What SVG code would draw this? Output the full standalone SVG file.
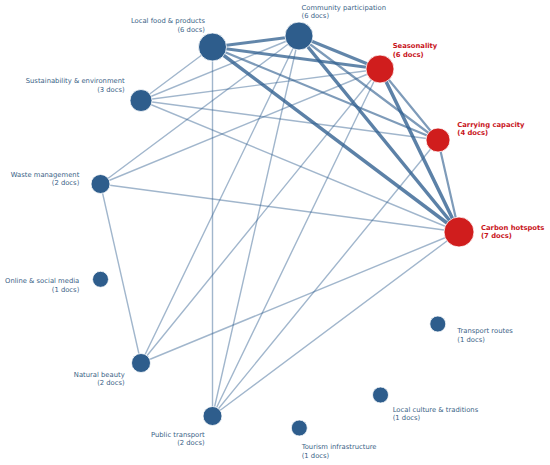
<svg xmlns="http://www.w3.org/2000/svg" width="550" height="465" viewBox="0 0 550 465">
<style>
.e{stroke:#2e5e8e;fill:none;stroke-linecap:round}
.t1{stroke-width:1.4;stroke-opacity:0.45}
.t2{stroke-width:2.2;stroke-opacity:0.62}
.t3{stroke-width:3;stroke-opacity:0.75}
.t4{stroke-width:3.5;stroke-opacity:0.78}
.nb{fill:#2e5d8c;stroke:#ffffff;stroke-width:0.8}
.nr{fill:#d01d1d;stroke:#ffffff;stroke-width:0.8}
.lb{font-family:"DejaVu Sans",sans-serif;font-size:6.8px;fill:#3a5f86}
.lr{font-family:"DejaVu Sans",sans-serif;font-size:6.8px;fill:#c8141b;font-weight:bold}
.r{text-anchor:end}
</style>
<rect width="550" height="465" fill="#ffffff"/>
<g id="edges">
<line class="e t3" x1="212.5" y1="47" x2="299" y2="36"/>
<line class="e t3" x1="212.5" y1="47" x2="380" y2="69"/>
<line class="e t4" x1="212.5" y1="47" x2="459" y2="232"/>
<line class="e t2" x1="212.5" y1="47" x2="438" y2="140"/>
<line class="e t3" x1="299" y1="36" x2="380" y2="69"/>
<line class="e t4" x1="299" y1="36" x2="459" y2="232"/>
<line class="e t2" x1="299" y1="36" x2="438" y2="140"/>
<line class="e t4" x1="380" y1="69" x2="459" y2="232"/>
<line class="e t2" x1="380" y1="69" x2="438" y2="140"/>
<line class="e t2" x1="438" y1="140" x2="459" y2="232"/>
<line class="e t1" x1="212.5" y1="47" x2="141" y2="100.5"/>
<line class="e t1" x1="212.5" y1="47" x2="212.5" y2="416"/>
<line class="e t1" x1="299" y1="36" x2="141" y2="100.5"/>
<line class="e t1" x1="299" y1="36" x2="100.5" y2="184"/>
<line class="e t1" x1="299" y1="36" x2="141" y2="363"/>
<line class="e t1" x1="299" y1="36" x2="212.5" y2="416"/>
<line class="e t1" x1="380" y1="69" x2="141" y2="100.5"/>
<line class="e t1" x1="380" y1="69" x2="100.5" y2="184"/>
<line class="e t1" x1="380" y1="69" x2="141" y2="363"/>
<line class="e t1" x1="380" y1="69" x2="212.5" y2="416"/>
<line class="e t1" x1="438" y1="140" x2="141" y2="100.5"/>
<line class="e t1" x1="438" y1="140" x2="212.5" y2="416"/>
<line class="e t1" x1="459" y1="232" x2="141" y2="100.5"/>
<line class="e t1" x1="459" y1="232" x2="100.5" y2="184"/>
<line class="e t1" x1="459" y1="232" x2="141" y2="363"/>
<line class="e t1" x1="459" y1="232" x2="212.5" y2="416"/>
<line class="e t1" x1="100.5" y1="184" x2="141" y2="363"/>
</g>
<g id="n-local-food"><circle class="nb" cx="212.5" cy="47" r="14"/><text class="lb r" x="205" y="23.2">Local food &amp; products</text><text class="lb r" x="205" y="31.5">(6 docs)</text></g>
<g id="n-community"><circle class="nb" cx="299" cy="36" r="14"/><text class="lb" x="301.5" y="10">Community participation</text><text class="lb" x="301.5" y="18.3">(6 docs)</text></g>
<g id="n-seasonality"><circle class="nr" cx="380" cy="69" r="14"/><text class="lr" x="392.7" y="48.3">Seasonality</text><text class="lr" x="392.7" y="56.5">(6 docs)</text></g>
<g id="n-carrying"><circle class="nr" cx="438" cy="140" r="12"/><text class="lr" x="457.3" y="127.3">Carrying capacity</text><text class="lr" x="457.3" y="135.3">(4 docs)</text></g>
<g id="n-carbon"><circle class="nr" cx="459" cy="232" r="15"/><text class="lr" x="481" y="230">Carbon hotspots</text><text class="lr" x="481" y="238">(7 docs)</text></g>
<g id="n-sustainability"><circle class="nb" cx="141" cy="100.5" r="11"/><text class="lb r" x="124.7" y="83.3">Sustainability &amp; environment</text><text class="lb r" x="124.7" y="91.7">(3 docs)</text></g>
<g id="n-waste"><circle class="nb" cx="100.5" cy="184" r="9.5"/><text class="lb r" x="79.3" y="177">Waste management</text><text class="lb r" x="79.3" y="185.3">(2 docs)</text></g>
<g id="n-online"><circle class="nb" cx="100.5" cy="279.3" r="8"/><text class="lb r" x="79.3" y="283.3">Online &amp; social media</text><text class="lb r" x="79.3" y="291.7">(1 docs)</text></g>
<g id="n-natural"><circle class="nb" cx="141" cy="363" r="9.5"/><text class="lb r" x="124.7" y="377">Natural beauty</text><text class="lb r" x="124.7" y="385.3">(2 docs)</text></g>
<g id="n-public"><circle class="nb" cx="212.5" cy="416" r="9.5"/><text class="lb r" x="204.7" y="437">Public transport</text><text class="lb r" x="204.7" y="445.3">(2 docs)</text></g>
<g id="n-tourism"><circle class="nb" cx="299.3" cy="428" r="8"/><text class="lb" x="301.7" y="449.3">Tourism infrastructure</text><text class="lb" x="301.7" y="457.7">(1 docs)</text></g>
<g id="n-culture"><circle class="nb" cx="380.5" cy="395" r="8"/><text class="lb" x="392.7" y="412">Local culture &amp; traditions</text><text class="lb" x="392.7" y="420.3">(1 docs)</text></g>
<g id="n-routes"><circle class="nb" cx="437.8" cy="324" r="8"/><text class="lb" x="457.3" y="333.3">Transport routes</text><text class="lb" x="457.3" y="341.7">(1 docs)</text></g>
</svg>
